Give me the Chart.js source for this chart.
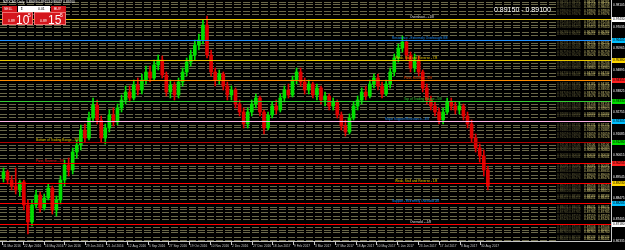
<!DOCTYPE html>
<html>
<head>
<meta charset="utf-8">
<script src="https://cdn.jsdelivr.net/npm/chart.js@4.4.1/dist/chart.umd.min.js"></script>
<style>
  html, body { margin: 0; padding: 0; background: #000; }
  #wrap { position: relative; width: 625px; height: 250px; }
</style>
</head>
<body>
<div id="wrap"><canvas id="c"></canvas></div>
<script>
// NZDCAD daily (one candle ~ 3 trading days)
const opens = [0.8948,0.8978,0.8938,0.8908,0.8888,0.8928,0.8813,0.8728,0.8813,0.8863,
  0.8798,0.8848,0.8898,0.8788,0.8838,0.8938,0.9013,0.8988,0.9078,0.9113,
  0.9188,0.9148,0.9248,0.9313,0.9238,0.9148,0.9198,0.9263,0.9228,0.9298,
  0.9338,0.9378,0.9348,0.9413,0.9388,0.9438,0.9478,0.9448,0.9513,0.9538,
  0.9463,0.9378,0.9413,0.9363,0.9428,0.9478,0.9528,0.9563,0.9613,0.9638,
  0.9713,0.9563,0.9478,0.9438,0.9468,0.9408,0.9363,0.9388,0.9318,0.9278,
  0.9218,0.9278,0.9318,0.9348,0.9278,0.9198,0.9263,0.9308,0.9288,0.9348,
  0.9388,0.9363,0.9438,0.9478,0.9428,0.9388,0.9418,0.9363,0.9398,0.9338,
  0.9358,0.9308,0.9328,0.9263,0.9208,0.9178,0.9248,0.9308,0.9338,0.9378,
  0.9358,0.9418,0.9448,0.9408,0.9368,0.9418,0.9478,0.9548,0.9598,0.9628,
  0.9563,0.9498,0.9538,0.9478,0.9398,0.9338,0.9308,0.9278,0.9238,0.9278,
  0.9328,0.9308,0.9288,0.9308,0.9258,0.9218,0.9148,0.9098,0.9058,0.8988];
const closes = [0.8978,0.8938,0.8908,0.8888,0.8928,0.8813,0.8728,0.8813,0.8863,0.8798,
  0.8848,0.8898,0.8788,0.8838,0.8938,0.9013,0.8988,0.9078,0.9113,0.9188,
  0.9148,0.9248,0.9313,0.9238,0.9148,0.9198,0.9263,0.9228,0.9298,0.9338,
  0.9378,0.9348,0.9413,0.9388,0.9438,0.9478,0.9448,0.9513,0.9538,0.9463,
  0.9378,0.9413,0.9363,0.9428,0.9478,0.9528,0.9563,0.9613,0.9638,0.9713,
  0.9563,0.9478,0.9438,0.9468,0.9408,0.9363,0.9388,0.9318,0.9278,0.9218,
  0.9278,0.9318,0.9348,0.9278,0.9198,0.9263,0.9308,0.9288,0.9348,0.9388,
  0.9363,0.9438,0.9478,0.9428,0.9388,0.9418,0.9363,0.9398,0.9338,0.9358,
  0.9308,0.9328,0.9263,0.9208,0.9178,0.9248,0.9308,0.9338,0.9378,0.9358,
  0.9418,0.9448,0.9408,0.9368,0.9418,0.9478,0.9548,0.9598,0.9628,0.9563,
  0.9498,0.9538,0.9478,0.9398,0.9338,0.9308,0.9278,0.9238,0.9278,0.9328,
  0.9308,0.9288,0.9308,0.9258,0.9218,0.9148,0.9098,0.9058,0.8988,0.8910];
const highs = [0.8998,0.8988,0.8958,0.8998,0.8938,0.8938,0.8838,0.8838,0.8888,0.8878,
  0.8868,0.8918,0.8908,0.8858,0.8958,0.9038,0.9048,0.9098,0.9138,0.9213,
  0.9218,0.9278,0.9348,0.9338,0.9258,0.9218,0.9288,0.9298,0.9318,0.9363,
  0.9408,0.9408,0.9438,0.9448,0.9468,0.9508,0.9508,0.9538,0.9563,0.9558,
  0.9478,0.9438,0.9428,0.9448,0.9498,0.9548,0.9588,0.9638,0.9668,0.9738,
  0.9758,0.9588,0.9498,0.9488,0.9478,0.9428,0.9408,0.9398,0.9338,0.9298,
  0.9298,0.9338,0.9368,0.9358,0.9288,0.9278,0.9328,0.9338,0.9368,0.9408,
  0.9418,0.9458,0.9498,0.9498,0.9448,0.9438,0.9428,0.9418,0.9408,0.9378,
  0.9368,0.9348,0.9338,0.9278,0.9238,0.9268,0.9328,0.9358,0.9398,0.9408,
  0.9438,0.9468,0.9468,0.9428,0.9438,0.9498,0.9568,0.9618,0.9658,0.9638,
  0.9578,0.9568,0.9558,0.9488,0.9418,0.9358,0.9328,0.9298,0.9298,0.9348,
  0.9348,0.9328,0.9328,0.9318,0.9278,0.9238,0.9168,0.9118,0.9088,0.9008];
const lows = [0.8928,0.8918,0.8888,0.8868,0.8858,0.8788,0.8668,0.8708,0.8798,0.8778,
  0.8788,0.8838,0.8768,0.8758,0.8818,0.8908,0.8958,0.8968,0.9048,0.9088,
  0.9128,0.9138,0.9228,0.9218,0.9128,0.9118,0.9178,0.9208,0.9213,0.9278,
  0.9318,0.9328,0.9338,0.9363,0.9368,0.9418,0.9428,0.9438,0.9488,0.9448,
  0.9358,0.9348,0.9338,0.9348,0.9408,0.9458,0.9508,0.9538,0.9588,0.9618,
  0.9548,0.9458,0.9408,0.9418,0.9388,0.9338,0.9338,0.9298,0.9258,0.9198,
  0.9198,0.9258,0.9298,0.9258,0.9168,0.9188,0.9248,0.9268,0.9278,0.9328,
  0.9348,0.9353,0.9418,0.9408,0.9368,0.9368,0.9348,0.9338,0.9318,0.9308,
  0.9288,0.9288,0.9248,0.9188,0.9158,0.9168,0.9238,0.9288,0.9318,0.9338,
  0.9348,0.9398,0.9388,0.9348,0.9358,0.9398,0.9458,0.9528,0.9578,0.9538,
  0.9478,0.9478,0.9458,0.9378,0.9318,0.9288,0.9258,0.9218,0.9218,0.9268,
  0.9288,0.9268,0.9268,0.9238,0.9198,0.9128,0.9078,0.9028,0.8958,0.8888];

const dateLabels = ["31 Mar 2016","22 Apr 2016","16 May 2016","7 Jun 2016","29 Jun 2016","21 Jul 2016",
  "12 Aug 2016","5 Sep 2016","27 Sep 2016","19 Oct 2016","10 Nov 2016","2 Dec 2016",
  "27 Dec 2016","18 Jan 2017","9 Feb 2017","3 Mar 2017","27 Mar 2017","18 Apr 2017",
  "10 May 2017","1 Jun 2017","23 Jun 2017","17 Jul 2017","8 Aug 2017","30 Aug 2017"];
const priceTicks = [0.98105,0.97035,0.95965,0.94895,0.93825,0.92755,0.91685,0.90615,0.89545,0.88475,0.87405,0.86335];

// Murrey math levels (+1/8 down to -1/8)
const mmLevels = [0.97430,0.96405,0.95380,0.94355,0.93330,0.92305,0.91280,0.90255,0.89230,0.88205,0.87180];
const mmNames = ["Overshoot - +1/8","Resistance - Extremely Overbought 8/8","Weak, Stall and Reverse - 7/8",
  "Pivot, Reverse - 6/8","Top of Trading Range - 5/8","Major Support/Resistance - 4/8",
  "Bottom of Trading Range - 3/8","Pivot, Reverse - 2/8","Weak, Stall and Reverse - 1/8",
  "Support - Extremely Oversold 0/8","Oversold - -1/8"];

const bid = "0.89105", ask = "0.89155";
const zoneText = "0.89150 - 0.89100";
const headerText = "NZDCAD,Daily  0.89069 0.89153 0.89037 0.89100";

// styles
const BULL = "#00e000", BEAR = "#e00000";
const mmColors = ["#e8c800","#1e90ff","#e8c800","#ff8c00","#32cd32","#ffb0e8","#b00000","#ff0000","#ff0000","#ff0000","#ff0000"];
const mmTagColors = ["#ffffff","#00bfff","#ffd700","#ff2020","#00e000","#00bfff","#00e000","#ff2020","#ffd700","#00bfff","#ffffff"];
const mmTextColors = ["#e0e0e0","#1e90ff","#e8c800","#ff4500","#32cd32","#1e90ff","#e8c800","#ff2020","#e8c800","#1e90ff","#e0e0e0"];
const mmTextX = [410,392,395,404,404,385,36,36,395,392,410];
const rowFracs = [0.17,0.29,0.41,0.63,0.76];
const labelStep = 5.111, labelStart = -0.37;
const TINY = "3.2px Arial";

const idx = closes.map((_, i) => i);
const wickData = idx.map(i => ({ x: i, y: [lows[i], highs[i]] }));
const bodyData = idx.map(i => ({ x: i, y: [opens[i], closes[i]] }));
const candleColor = ctx => closes[ctx.dataIndex] >= opens[ctx.dataIndex] ? BULL : BEAR;

function pxLine(ctx, x1, y, x2) {
  ctx.beginPath();
  ctx.moveTo(x1, Math.round(y) + 0.5);
  ctx.lineTo(x2, Math.round(y) + 0.5);
  ctx.stroke();
}

const mt4 = {
  id: "mt4",
  beforeDatasetsDraw(chart) {
    const ctx = chart.ctx, y = chart.scales.y, a = chart.chartArea;
    const step = mmLevels[0] - mmLevels[1];
    ctx.save();
    ctx.beginPath();
    ctx.rect(a.left, a.top, a.right - a.left, a.bottom - a.top);
    ctx.clip();
    ctx.lineWidth = 1;
    ctx.font = TINY;
    ctx.textBaseline = "middle";
    for (let k = -1; k < mmLevels.length; k++) {
      const upper = mmLevels[0] - k * step;
      rowFracs.forEach(f => {
        const p = upper - f * step;
        const py = y.getPixelForValue(p);
        ctx.strokeStyle = "#6a6849";
        ctx.setLineDash([7, 2]);
        pxLine(ctx, 0, py, 556);
        ctx.setLineDash([]);
        const t = p.toFixed(5);
        ctx.fillStyle = "#66623c";
        ctx.fillText(t, 557, py);
        ctx.fillText(t, 569, py);
        ctx.fillStyle = "#d0c676";
        ctx.fillText(t, 584, py);
        ctx.fillText(t, 598, py);
      });
    }
    ctx.restore();
  },
  afterDatasetsDraw(chart) {
    const ctx = chart.ctx, y = chart.scales.y, a = chart.chartArea;
    ctx.save();
    ctx.lineWidth = 1;
    ctx.font = TINY;
    ctx.textBaseline = "bottom";
    mmLevels.forEach((p, i) => {
      const py = y.getPixelForValue(p);
      ctx.strokeStyle = mmColors[i];
      pxLine(ctx, a.left, py, a.right);
      ctx.fillStyle = mmTextColors[i];
      ctx.fillText(mmNames[i], mmTextX[i], Math.round(py) - 0.5);
    });
    ctx.restore();
  },
  afterDraw(chart) {
    const ctx = chart.ctx, x = chart.scales.x, y = chart.scales.y, a = chart.chartArea;
    ctx.save();
    // axis borders
    ctx.strokeStyle = "#c8c8c8";
    ctx.lineWidth = 1;
    ctx.beginPath();
    ctx.moveTo(a.right + 0.5, 0); ctx.lineTo(a.right + 0.5, a.bottom + 1);
    ctx.moveTo(0, a.bottom + 0.5); ctx.lineTo(a.right + 1, a.bottom + 0.5);
    ctx.stroke();
    // price scale
    ctx.font = TINY;
    ctx.textBaseline = "middle";
    ctx.fillStyle = "#ffffff";
    priceTicks.forEach(p => {
      ctx.fillText(p.toFixed(5), a.right + 2, y.getPixelForValue(p));
    });
    mmLevels.forEach((p, i) => {
      const py = Math.round(y.getPixelForValue(p));
      ctx.fillStyle = mmTagColors[i];
      ctx.fillRect(a.right + 1, py - 2, 14, 5);
      ctx.fillStyle = "#000000";
      ctx.fillText(p.toFixed(5), a.right + 2, py + 0.5);
    });
    // time scale
    ctx.fillStyle = "#c8c8c8";
    dateLabels.forEach((d, k) => {
      const px = Math.round(x.getPixelForValue(labelStart + k * labelStep));
      ctx.fillRect(px, a.bottom + 1, 1, 3);
      ctx.fillText(d, px + 1, a.bottom + 5);
    });
    // header + zone text
    ctx.fillStyle = "#ffffff";
    ctx.fillText(headerText, 3, 2.5);
    ctx.font = "7px Arial";
    ctx.fillText(zoneText, 494, 10);
    // one-click trading panel
    ctx.fillStyle = "#d4161c";
    ctx.fillRect(2, 6, 15, 6);
    ctx.fillRect(51, 6, 15, 6);
    ctx.fillRect(2, 12, 31, 13);
    ctx.fillRect(34, 12, 32, 13);
    ctx.fillStyle = "#ffffff";
    ctx.fillRect(18, 6, 32, 6);
    ctx.strokeStyle = "#f07070";
    ctx.strokeRect(2.5, 12.5, 30, 12);
    ctx.strokeRect(34.5, 12.5, 31, 12);
    ctx.font = "3.5px Arial";
    ctx.fillStyle = "#ffffff";
    ctx.fillText("SELL", 4, 9);
    ctx.fillText("BUY", 54, 9);
    ctx.fillStyle = "#000000";
    ctx.fillText("\u21D5", 20, 9);
    ctx.fillText("0.01", 38, 9);
    ctx.fillStyle = "#ffffff";
    ctx.fillText(bid.slice(0, 4), 8, 21);
    ctx.fillText(ask.slice(0, 4), 40, 21);
    ctx.font = "12px Arial";
    ctx.textBaseline = "alphabetic";
    ctx.fillText(bid.slice(4, 6), 16, 24);
    ctx.fillText(ask.slice(4, 6), 48, 24);
    ctx.font = "5px Arial";
    ctx.fillText(bid.slice(6), 28, 17);
    ctx.fillText(ask.slice(6), 60, 17);
    ctx.restore();
  }
};

new Chart(document.getElementById("c"), {
  type: "bar",
  data: {
    datasets: [
      { data: wickData, backgroundColor: candleColor, barThickness: 1, grouped: false, minBarLength: 1 },
      { data: bodyData, backgroundColor: candleColor, barThickness: 3, grouped: false, minBarLength: 1 }
    ]
  },
  options: {
    responsive: true,
    maintainAspectRatio: false,
    animation: false,
    layout: { padding: 0 },
    plugins: { legend: { display: false }, tooltip: { enabled: false } },
    scales: {
      x: {
        type: "linear", min: -0.86, max: 149.25, offset: false,
        ticks: { display: false }, grid: { display: false }, border: { display: false },
        afterFit: s => { s.height = 9; }
      },
      y: {
        position: "right", min: 0.8633, max: 0.9838,
        ticks: { display: false }, grid: { display: false }, border: { display: false },
        afterFit: s => { s.width = 14; }
      }
    }
  },
  plugins: [mt4]
});
</script>
</body>
</html>
